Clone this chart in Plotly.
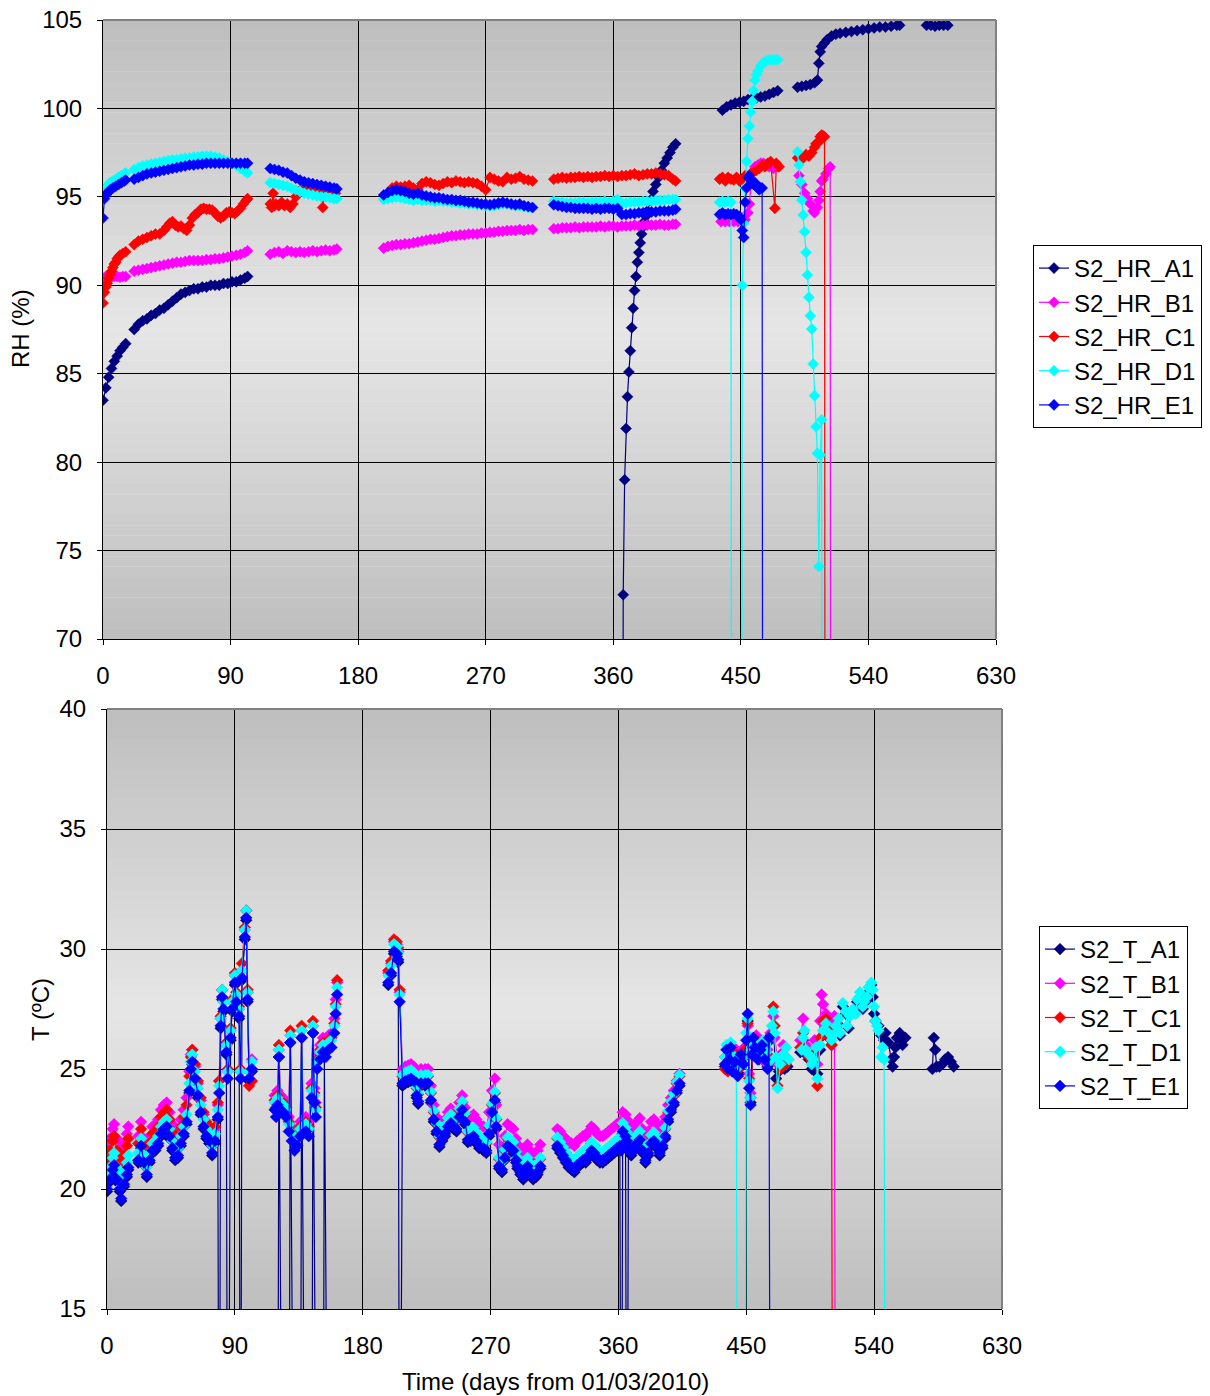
import plotly.graph_objects as go

FONT = "Liberation Sans, Arial, sans-serif"
# page body has an 8px margin; the figure is laid out in screen pixels minus that offset
OFF = 8
W, H = 1210 - OFF, 1396 - OFF
COL = {"A1": "#000080", "B1": "#FF00FF", "C1": "#FF0000", "D1": "#00FFFF", "E1": "#0000FF"}
SERIES = ["A1", "B1", "C1", "D1", "E1"]


def fx(px):
    return (px - OFF) / W


def fy(py):
    return 1 - (py - OFF) / H


# ---------------- RH data (days from 01/03/2010, RH %) ----------------
rh_a1_days = [[0, 2, 4, 6, 8, 10, 12, 14, 16],
              [*range(22, 101, 3), 102],
              [*range(366, 385), *range(386, 405, 2)],
              [*range(437, 477, 3)],
              [490, 493, 496, 499, 502, 504, 505, 506, 507, 509, 511, 514, 517, 520, 524, 528, 532, 536, 540, 544, 548, 552, 556, 560, 562],
              [581, 584, 587, 590, 593, 596]]
rh_a1 = [[83.5, 84.2, 84.8, 85.3, 85.7, 86.0, 86.3, 86.5, 86.7],
         [87.5, 87.8, 88.0, 88.1, 88.3, 88.4, 88.6, 88.7, 88.9, 89.1, 89.3, 89.5, 89.6, 89.7, 89.8, 89.8, 89.9, 89.9, 90.0, 90.0, 90.0, 90.1, 90.1, 90.2, 90.2, 90.3, 90.4, 90.5],
         [0, 72.5, 79.0, 81.9, 83.7, 85.1, 86.3, 87.6, 88.7, 89.7, 90.5, 91.3, 91.85, 92.4, 92.9, 93.3, 93.6, 93.9, 94.2,
          94.8, 95.3, 95.7, 96.1, 96.5, 96.9, 97.2, 97.5, 97.8, 98.0],
         [99.9, 100.1, 100.2, 100.3, 100.35, 100.4, 100.5, 100.55, 100.6, 100.65, 100.7, 100.8, 100.9, 101.0],
         [101.2, 101.25, 101.3, 101.35, 101.45, 101.6, 102.55, 103.2, 103.5, 103.7, 103.9, 104.1, 104.2, 104.25, 104.3, 104.35, 104.4, 104.45, 104.5, 104.55, 104.6, 104.6, 104.65, 104.7, 104.7],
         [104.7, 104.7, 104.65, 104.7, 104.7, 104.7]]

rh_b1_days = [[0, 2, 4, 6, 8, 10, 12, 14, 16],
              [*range(22, 101, 3), 102],
              [*range(118, 164, 3), 165],
              [*range(198, 304, 3)],
              [*range(318, 403, 3), 404],
              [436, 439, 442, 445, 448, 451, 453, 455, 456, 458, 460, 462, 464, 466, 468, 470, 473, 476],
              [491, 493, 495, 497, 499, 501, 502, 504, 505, 506, 507, 508, 510, 512, 513, 514]]
rh_b1 = [[90.4, 90.5, 90.5, 90.45, 90.5, 90.5, 90.45, 90.5, 90.5],
         [90.8, 90.85, 90.9, 90.95, 91.0, 91.05, 91.1, 91.15, 91.2, 91.25, 91.3, 91.3, 91.35, 91.4, 91.4, 91.4, 91.4, 91.45, 91.45, 91.5, 91.5, 91.55, 91.6, 91.65, 91.7, 91.75, 91.85, 91.95],
         [91.75, 91.85, 91.9, 91.8, 91.95, 91.9, 91.85, 91.9, 91.85, 91.9, 91.95, 91.9, 91.95, 92.0, 91.95, 92.0, 92.05],
         [92.1, 92.2, 92.25, 92.3, 92.3, 92.35, 92.35, 92.4, 92.45, 92.5, 92.55, 92.6, 92.6, 92.65, 92.7, 92.75, 92.8, 92.8, 92.85, 92.85, 92.9, 92.9, 92.9, 92.95, 92.95, 93.0, 93.0, 93.05, 93.05, 93.1, 93.1, 93.1, 93.15, 93.1, 93.15, 93.15],
         [93.2, 93.2, 93.25, 93.25, 93.25, 93.3, 93.25, 93.3, 93.3, 93.3, 93.3, 93.35, 93.3, 93.35, 93.35, 93.3, 93.35, 93.35, 93.35, 93.4, 93.35, 93.4, 93.4, 93.4, 93.4, 93.45, 93.4, 93.4, 93.45, 93.45],
         [93.6, 93.6, 93.6, 93.6, 93.6, 93.6, 93.7, 94.1, 94.6, 96.4, 96.7, 96.8, 96.9, 96.9, 96.8, 96.7, 96.6, 96.7],
         [96.2, 95.7, 95.2, 94.9, 94.6, 94.2, 94.1, 94.4, 94.8, 95.3, 95.9, 96.0, 96.3, 96.6, 96.7, 0]]

rh_c1_days = [[0, 1, 2, 3, 4, 5, 6, 7, 8, 9, 10, 11, 12, 14, 16],
              [22, 25, 28, 31, 34, 37, 40, 43, *range(45, 102, 2), 102],
              [118, 119, 120, 121, 122, 124, 126, 128, 130, 132, 134, 136, 138, 140, 143, 146, 149, 152, 154, 155, 156, 158, 160, 162, 164],
              [*range(204, 304, 3)],
              [*range(318, 403, 3), 404],
              [435, 437, 439, 441, 443, 445, 447, 449, 451, 453, 455, 457, 459, 461, 463, 465, 467, 469, 471, 474, 475, 477],
              [490, 492, 494, 496, 498, 500, 502, 503, 505, 506, 507, 508, 509, 510]]
rh_c1 = [[89.0, 89.6, 89.9, 90.1, 90.4, 90.6, 90.8, 91.0, 91.2, 91.3, 91.5, 91.6, 91.7, 91.8, 91.9],
         [92.3, 92.5, 92.6, 92.7, 92.8, 92.9, 92.9, 93.1,
          93.3, 93.5, 93.6, 93.4, 93.3, 93.35, 93.2, 93.1, 93.4, 93.8,
          94.0, 94.1, 94.3, 94.35, 94.3, 94.3, 94.25, 94.1, 93.9, 93.8,
          93.9, 94.1, 94.15, 94.1, 94.05, 94.2, 94.35, 94.6, 94.8, 94.9],
         [94.6, 94.4, 95.2, 94.5, 94.6, 94.5, 94.7, 94.5, 94.6, 94.4, 94.6, 95.0, 95.3, 95.4, 95.5, 95.5, 95.5, 95.4, 95.4, 94.4, 95.4, 95.5, 95.4, 95.3, 95.2],
         [95.5, 95.6, 95.55, 95.6, 95.65, 95.5, 95.4, 95.75, 95.85, 95.8, 95.7, 95.65, 95.75, 95.85, 95.8, 95.9, 95.85, 95.8, 95.85, 95.8, 95.75, 95.6, 95.4, 96.1, 96.0, 95.9, 95.85, 96.1, 96.0, 96.05, 96.15, 96.0, 95.95, 95.9],
         [96.0, 96.05, 96.1, 96.05, 96.1, 96.1, 96.15, 96.1, 96.15, 96.1, 96.15, 96.15, 96.2, 96.15, 96.2, 96.15, 96.2, 96.2, 96.25, 96.3, 96.2, 96.25, 96.3, 96.3, 96.35, 96.3, 96.25, 96.2, 96.0, 95.9],
         [96.0, 96.1, 95.9, 96.1, 96.0, 95.95, 96.1, 95.9, 96.0, 96.2, 96.1, 96.3, 96.4, 96.5, 96.6, 96.8, 96.7, 96.9, 97.0, 94.35, 96.9, 96.7],
         [97.2, 97.3, 97.2, 97.4, 97.3, 97.5, 97.8, 98.0, 98.1, 98.4, 98.5, 98.45, 98.4, 0]]

rh_d1_days = [[0, 1, 2, 3, 4, 5, 7, 9, 11, 13, 15, 16],
              [*range(22, 101, 3), 102],
              [*range(118, 164, 3), 165],
              [*range(198, 304, 3)],
              [*range(318, 403, 3), 404],
              [435, 437, 439, 441, 443, 444, 450, 451, 452, 453, 454, 455, 456, 457, 458, 459, 460, 461, 462, 464, 466, 468, 470, 472, 474, 476],
              [*range(490, 509)]]
rh_d1 = [[95.2, 95.4, 95.5, 95.6, 95.7, 95.8, 95.9, 96.0, 96.1, 96.2, 96.3, 96.35],
         [96.55, 96.65, 96.75, 96.8, 96.85, 96.9, 96.95, 97.0, 97.05, 97.1, 97.1, 97.15, 97.2, 97.2, 97.25, 97.25, 97.3, 97.3, 97.3, 97.25, 97.2, 97.1, 97.0, 96.9, 96.8, 96.6, 96.45, 96.35],
         [95.8, 95.75, 95.7, 95.65, 95.6, 95.5, 95.4, 95.3, 95.2, 95.15, 95.1, 95.05, 95.0, 95.0, 94.95, 94.9, 94.9],
         [94.85, 94.9, 94.95, 95.0, 94.95, 94.9, 94.85, 94.8, 94.85, 94.8, 94.8, 94.8, 94.75, 94.8, 94.75, 94.75, 94.7, 94.7, 94.65, 94.65, 94.6, 94.6, 94.55, 94.55, 94.5, 94.5, 94.5, 94.55, 94.6, 94.6, 94.55, 94.5, 94.5, 94.45, 94.4, 94.4],
         [94.75, 94.7, 94.7, 94.65, 94.65, 94.65, 94.7, 94.7, 94.65, 94.7, 94.7, 94.7, 94.75, 94.7, 94.75, 94.85, 94.65, 94.65, 94.7, 94.7, 94.7, 94.75, 94.75, 94.75, 94.8, 94.8, 94.8, 94.85, 94.85, 94.85],
         [94.7, 94.75, 94.7, 94.75, 94.7, 0, 0, 90.0, 93.5, 95.5, 97.0, 98.3, 99.0, 99.8, 100.4, 101.0, 101.6, 101.9, 102.1, 102.4, 102.6, 102.7, 102.75, 102.75, 102.75, 102.75],
         [97.55, 96.8, 95.86, 94.82, 93.97, 93.03, 91.86, 90.58, 89.32, 88.28, 87.53, 85.55, 83.76, 82.0, 80.5, 74.1, 80.4, 82.4, 0]]

rh_e1_days = [[0, 1, 2, 3, 4, 5, 7, 9, 11, 13, 15, 16],
              [*range(22, 101, 3), 102],
              [*range(118, 164, 3), 165],
              [*range(198, 304, 3)],
              [*range(318, 403, 3), 404],
              [435, 437, 439, 441, 443, 445, 447, 449, 450, 451, 452, 453, 454, 455, 456, 457, 458, 459, 460, 461, 462, 463, 464, 465, 466]]
rh_e1 = [[93.8, 94.9, 95.1, 95.2, 95.3, 95.4, 95.5, 95.6, 95.7, 95.8, 95.9, 95.95],
         [96.0, 96.1, 96.2, 96.3, 96.35, 96.4, 96.45, 96.5, 96.55, 96.6, 96.65, 96.7, 96.75, 96.8, 96.8, 96.85, 96.85, 96.9, 96.9, 96.9, 96.9, 96.9, 96.9, 96.9, 96.9, 96.9, 96.9, 96.9],
         [96.6, 96.55, 96.5, 96.4, 96.35, 96.2, 96.05, 95.95, 95.85, 95.8, 95.75, 95.7, 95.65, 95.6, 95.55, 95.5, 95.45],
         [95.1, 95.25, 95.35, 95.4, 95.35, 95.3, 95.2, 95.15, 95.2, 95.1, 95.05, 95.0, 94.95, 94.95, 94.9, 94.85, 94.85, 94.8, 94.8, 94.75, 94.7, 94.7, 94.65, 94.6, 94.6, 94.55, 94.6, 94.65, 94.7, 94.65, 94.6, 94.55, 94.6, 94.5, 94.45, 94.4],
         [94.55, 94.5, 94.45, 94.4, 94.4, 94.35, 94.35, 94.35, 94.35, 94.3, 94.35, 94.3, 94.35, 94.35, 94.3, 94.35, 94.0, 94.0, 94.05, 94.05, 94.1, 94.1, 94.1, 94.15, 94.15, 94.2, 94.2, 94.2, 94.25, 94.3],
         [94.0, 94.1, 94.0, 94.05, 94.0, 94.05, 94.0, 93.9, 93.7, 93.1, 92.7, 94.7, 95.5, 96.1, 96.2, 96.0, 95.8, 95.7, 95.8, 95.6, 95.5, 95.4, 95.5, 95.5, 0]]

# ---------------- T data (days, deg C) ----------------
t_main_days = [[0, 2, 4, 5, 7, 9, 10, 12, 14, 15],
               [*range(22, 59, 2), 59, 60, *range(62, 79, 2), 79, 80, 81, 82, 84, 85, 87, 88, 90, 91, 93, 94, 95, 97, 98, 99, 100, 102],
               [118, 119, 120, 121, 122, 124, 126, 128, 129, 130, 132, 134, 136, 137, 138, 140, 142, 144, 145, 146, 147, 148, 150, 152, 153, 154, 156, 158, 160, 161, 162],
               [198, 200, 202, 204, 205, 206, 208, 210, 212, 214, 216, 218, 219, 221, *range(224, 263, 2), 265, 267, 269, 271, 273, 274, 276, 278, 280, 282, 284, 286, 288, 289, 291, 293, 295, 296, 298, 300, 302, 303, 305],
               [*range(317, 362, 2), 362, 363, 365, 366, *range(367, 404, 2)]]

t_e1_main = [[20.0, 20.4, 20.8, 21.0, 20.4, 20.0, 19.6, 20.2, 20.6, 20.9],
             [21.2, 21.8, 21.1, 20.6, 21.2, 21.6, 21.7, 21.9, 22.3, 22.5, 22.6, 22.2, 21.7, 21.3, 21.4, 21.9, 22.3, 22.8, 24.1, 25.0, 25.3, 24.6, 23.9, 23.2, 22.6, 22.2, 22.0, 21.5, 22.0, 23.0, 24.0, 26.8, 28.0, 27.5, 25.7, 24.6, 26.3, 27.5, 28.6, 27.8, 27.2, 24.6, 28.8, 30.5, 31.3, 27.9, 24.6, 25.0],
             [23.3, 23.0, 23.5, 25.5, 23.3, 23.2, 23.0, 22.4, 26.1, 22.0, 21.6, 21.8, 22.2, 26.3, 22.3, 22.4, 22.2, 23.8, 26.5, 23.6, 23.0, 25.0, 25.4, 25.7, 25.5, 25.5, 25.8, 25.9, 26.5, 27.3, 28.1],
             [28.6, 29.0, 29.9, 29.8, 29.55, 27.8, 24.4, 24.5, 24.55, 24.6, 24.5, 23.9, 23.65, 24.4, 24.4, 24.4, 23.7, 22.9, 22.4, 21.85, 22.1, 22.3, 22.6, 22.75, 22.6, 22.5, 23.0, 23.3, 22.8, 22.05, 22.1, 22.2, 22.0, 21.8, 21.7, 21.6, 22.3, 23.2, 23.7, 22.6, 20.95, 20.8, 21.3, 21.8, 21.7, 21.6, 21.2, 20.95, 20.7, 20.5, 20.8, 20.95, 20.7, 20.5, 20.6, 20.7, 20.95],
             [21.8, 21.6, 21.4, 21.2, 21.0, 20.9, 20.8, 21.0, 21.1, 21.2, 21.2, 21.4, 21.6, 21.5, 21.3, 21.2, 21.2, 21.3, 21.4, 21.5, 21.6, 21.7, 21.8, 21.6, 22.4, 22.2, 22.0, 21.8, 21.5, 21.7, 21.9, 22.05, 21.6, 21.2, 21.5, 21.9, 22.0, 21.8, 21.5, 21.8, 22.2, 22.9, 23.3, 23.6, 24.1, 24.4]]
t_e1_tail_days = [[435, 436, 437, 438, 439, 440, 442, 444, 446, 448, 450, 451, 452, 453, 454, 455, 456, 458, 460, 461, 463, 465, 466, 467]]
t_e1_tail = [[25.2, 25.8, 25.0, 25.4, 25.9, 24.9, 25.3, 24.7, 25.6, 25.2, 26.2, 27.3, 24.2, 23.5, 25.6, 26.3, 25.9, 25.4, 25.8, 26.0, 25.4, 25.0, 26.3, 0]]

t_b1_main = [[21.7, 22.1, 22.5, 22.7, 22.1, 21.7, 21.3, 21.9, 22.3, 22.6],
             [22.2, 22.8, 22.1, 21.6, 22.2, 22.6, 22.7, 22.9, 23.3, 23.5, 23.6, 23.2, 22.7, 22.3, 22.4, 22.9, 23.3, 23.8, 24.9, 25.6, 25.8, 25.1, 24.4, 23.7, 23.1, 22.7, 22.5, 22.0, 22.5, 23.5, 24.5, 27.1, 28.3, 27.8, 26.0, 24.9, 26.6, 27.8, 28.9, 28.1, 27.5, 24.9, 29.1, 30.8, 31.6, 28.2, 24.9, 25.4],
             [23.9, 23.6, 24.1, 25.8, 23.9, 23.8, 23.6, 23.0, 26.4, 22.6, 22.2, 22.4, 22.8, 26.6, 22.9, 23.0, 22.8, 24.4, 26.8, 24.2, 23.6, 25.6, 26.0, 26.3, 26.1, 26.1, 26.4, 26.5, 27.1, 27.9, 28.6],
             [29.0, 29.4, 30.3, 30.2, 29.9, 28.2, 25.0, 25.1, 25.15, 25.2, 25.1, 24.5, 24.25, 25.0, 25.0, 25.0, 24.3, 23.5, 23.0, 22.45, 22.7, 22.9, 23.2, 23.35, 23.2, 23.1, 23.6, 23.9, 23.4, 22.95, 23.0, 23.1, 22.9, 22.7, 22.6, 22.5, 23.2, 24.1, 24.6, 23.5, 21.85, 21.7, 22.2, 22.7, 22.6, 22.5, 22.1, 21.85, 21.6, 21.4, 21.7, 21.85, 21.6, 21.4, 21.5, 21.6, 21.85],
             [22.5, 22.4, 22.2, 22.1, 21.9, 21.9, 21.8, 22.0, 22.1, 22.2, 22.2, 22.4, 22.6, 22.5, 22.3, 22.2, 22.2, 22.3, 22.4, 22.5, 22.6, 22.7, 22.8, 22.6, 23.2, 23.1, 22.9, 22.7, 22.4, 22.6, 22.8, 22.95, 22.5, 22.1, 22.4, 22.8, 22.9, 22.7, 22.4, 22.7, 23.0, 23.5, 23.8, 24.1, 24.5, 24.8]]
t_b1_tail_days = [[435, 437, 439, 441, 443, 445, 447, 449, 451, 452, 453, 455, 457, 459, 461, 463, 465, 467, 469, 470, 472, 474, 476, 478],
                  [488, 490, 492, 494, 496, 498, 500, 502, 503, 504, 506, 508, 510, 512, 513]]
t_b1_tail = [[25.5, 25.3, 26.0, 25.4, 25.8, 25.3, 25.6, 25.9, 26.8, 24.8, 24.0, 26.2, 26.4, 25.7, 26.1, 25.3, 25.8, 26.5, 27.2, 26.3, 25.2, 25.6, 26.0, 25.5],
             [26.2, 27.1, 26.0, 25.8, 25.6, 26.2, 25.2, 27.0, 28.1, 27.7, 27.3, 27.0, 26.7, 27.2, 0]]

t_c1_main = [[21.2, 21.6, 22.0, 22.2, 21.6, 21.2, 20.8, 21.4, 21.8, 22.1],
             [21.9, 22.5, 21.8, 21.3, 21.9, 22.3, 22.4, 22.6, 23.0, 23.2, 23.3, 22.9, 22.4, 22.0, 22.1, 22.6, 23.0, 23.5, 24.7, 25.5, 25.8, 25.2, 24.5, 23.8, 23.2, 22.8, 22.6, 22.1, 22.6, 23.6, 24.5, 27.2, 28.3, 27.9, 26.1, 25.0, 26.7, 27.9, 29.0, 28.2, 27.6, 25.0, 29.4, 30.9, 31.6, 28.3, 24.3, 24.5],
             [23.7, 23.4, 23.9, 26.0, 23.7, 23.6, 23.4, 22.8, 26.6, 22.4, 22.0, 22.2, 22.6, 26.8, 22.7, 22.8, 22.6, 24.2, 27.0, 24.0, 23.4, 25.4, 25.8, 26.1, 25.9, 25.9, 26.2, 26.3, 26.9, 27.7, 28.7],
             [29.1, 29.5, 30.4, 30.3, 30.05, 28.3, 24.7, 24.8, 24.85, 24.9, 24.8, 24.2, 23.95, 24.7, 24.7, 24.7, 24.0, 23.2, 22.7, 22.15, 22.4, 22.6, 22.9, 23.05, 22.9, 22.8, 23.3, 23.6, 23.1, 22.35, 22.4, 22.5, 22.3, 22.1, 22.0, 21.9, 22.6, 23.5, 24.0, 22.9, 21.25, 21.1, 21.6, 22.1, 22.0, 21.9, 21.5, 21.25, 21.0, 20.8, 21.1, 21.25, 21.0, 20.8, 20.9, 21.0, 21.25],
             [22.1, 21.9, 21.7, 21.5, 21.3, 21.2, 21.1, 21.3, 21.4, 21.5, 21.5, 21.7, 21.9, 21.8, 21.6, 21.5, 21.5, 21.6, 21.7, 21.8, 21.9, 22.0, 22.1, 21.9, 22.7, 22.5, 22.3, 22.1, 21.8, 22.0, 22.2, 22.35, 21.9, 21.5, 21.8, 22.2, 22.3, 22.1, 21.8, 22.1, 22.5, 23.2, 23.6, 23.9, 24.4, 24.7]]
t_c1_tail_days = [[435, 437, 439, 441, 443, 445, 447, 449, 451, 452, 453, 455, 457, 459, 461, 463, 465, 467, 469, 470, 472, 474, 476, 478],
                  [488, 490, 492, 494, 496, 498, 500, 502, 504, 506, 508, 509, 510, 511]]
t_c1_tail = [[25.0, 24.9, 25.7, 25.3, 25.6, 25.0, 25.5, 25.8, 26.9, 24.6, 23.8, 26.1, 26.2, 25.5, 25.9, 25.4, 25.6, 26.4, 27.6, 26.8, 24.3, 25.0, 25.4, 25.2],
             [25.9, 26.5, 25.8, 25.5, 25.3, 25.8, 24.3, 26.3, 27.0, 27.1, 26.6, 26.3, 26.0, 0]]

t_d1_main = [[20.5, 20.9, 21.3, 21.5, 20.9, 20.5, 20.1, 20.7, 21.1, 21.4],
             [21.5, 22.1, 21.4, 20.9, 21.5, 21.9, 22.0, 22.2, 22.6, 22.8, 22.9, 22.5, 22.0, 21.6, 21.7, 22.2, 22.6, 23.1, 24.4, 25.3, 25.6, 24.9, 24.2, 23.5, 22.9, 22.5, 22.3, 21.8, 22.3, 23.3, 24.3, 27.1, 28.3, 27.8, 26.0, 24.9, 26.6, 27.8, 28.9, 28.1, 27.5, 24.9, 29.1, 30.8, 31.6, 28.2, 24.9, 25.3],
             [23.6, 23.3, 23.8, 25.8, 23.6, 23.5, 23.3, 22.7, 26.4, 22.3, 21.9, 22.1, 22.5, 26.6, 22.6, 22.7, 22.5, 24.1, 26.8, 23.9, 23.3, 25.3, 25.7, 26.0, 25.8, 25.8, 26.1, 26.2, 26.8, 27.6, 28.4],
             [28.9, 29.3, 30.2, 30.1, 29.85, 28.1, 24.75, 24.85, 24.9, 24.95, 24.85, 24.25, 24.0, 24.75, 24.75, 24.75, 24.05, 23.25, 22.75, 22.2, 22.45, 22.65, 22.95, 23.1, 22.95, 22.85, 23.35, 23.65, 23.15, 22.4, 22.45, 22.55, 22.35, 22.15, 22.05, 21.95, 22.65, 23.55, 24.05, 22.95, 21.3, 21.15, 21.65, 22.15, 22.05, 21.95, 21.55, 21.3, 21.05, 20.85, 21.15, 21.3, 21.05, 20.85, 20.95, 21.05, 21.3],
             [22.15, 21.95, 21.75, 21.55, 21.35, 21.25, 21.15, 21.35, 21.45, 21.55, 21.55, 21.75, 21.95, 21.85, 21.65, 21.55, 21.55, 21.65, 21.75, 21.85, 21.95, 22.05, 22.15, 21.95, 22.75, 22.55, 22.35, 22.15, 21.85, 22.05, 22.25, 22.4, 21.95, 21.55, 21.85, 22.25, 22.35, 22.15, 21.85, 22.15, 22.55, 23.25, 23.65, 23.95, 24.45, 24.75]]
t_d1_tail_days = [[435, 436, 437, 438, 439, 440, 442, 443, 444, 449, 450, 451, 452, 453, 454, 455, 456, 458, 460, 462, 464, 466, 468, 469, 470, 471, 472, 474, 476, 478, 480],
                  [489, 490, 491, 492, 494, 496, 497, 499, 500, 502, 504, 506, 508, 510, 511, 513, 515, 516, 518, 520, 521, 523, 525, 527, 528, 530, 532, 533, 535, 536, 538, 539, 540, 541, 542, 543, 545, 546, 547, 548]]
t_d1_tail = [[25.5, 26.0, 25.3, 25.6, 26.1, 25.2, 25.5, 25.0, 0, 0, 26.5, 27.1, 24.5, 23.8, 25.8, 26.0, 26.1, 25.6, 26.0, 26.2, 25.7, 25.3, 26.8, 27.4, 26.5, 25.5, 24.2, 25.2, 25.6, 25.9, 25.4],
             [25.8, 26.3, 26.6, 25.8, 25.6, 25.2, 25.4, 25.9, 24.6, 26.0, 26.6, 26.9, 26.5, 26.2, 26.4, 26.8, 27.1, 26.5, 27.75, 27.4, 26.8, 27.2, 27.5, 27.3, 27.9, 28.2, 27.6, 27.8, 28.0, 28.4, 28.6, 28.3, 27.6, 27.0, 26.8, 26.6, 25.5, 25.9, 25.4, 0]]

t_a1_main = [[19.9, 20.3, 20.7, 20.9, 20.3, 19.9, 19.5, 20.1, 20.5, 20.8],
             [21.1, 21.7, 21.0, 20.5, 21.1, 21.5, 21.6, 21.8, 22.2, 22.4, 22.5, 22.1, 21.6, 21.2, 21.3, 21.8, 22.2, 22.7, 24.0, 24.9, 25.2, 24.5, 23.8, 23.1, 22.5, 22.1, 21.9, 21.4, 21.9, 22.9, 0, 26.7, 27.9, 27.4, 25.6, 0, 26.2, 27.4, 28.5, 27.7, 27.1, 0, 28.7, 30.4, 31.2, 27.8, 24.5, 24.9],
             [0, 0, 0, 25.5, 0, 0, 0, 0, 26.1, 0, 0, 0, 0, 26.3, 0, 0, 0, 0, 26.5, 0, 0, 0, 0, 0, 25.5, 0, 0, 0, 0, 0, 0],
             [28.5, 28.9, 29.8, 29.7, 29.45, 0, 24.3, 24.4, 24.45, 24.5, 24.4, 23.8, 23.55, 24.3, 24.3, 24.3, 23.6, 22.8, 22.3, 21.75, 22.0, 22.2, 22.5, 22.65, 22.5, 22.4, 22.9, 23.2, 22.7, 21.95, 22.0, 22.1, 21.9, 21.7, 21.6, 21.5, 22.2, 23.1, 23.6, 22.5, 20.85, 20.7, 21.2, 21.7, 21.6, 21.5, 21.1, 20.85, 20.6, 20.4, 20.7, 20.85, 20.6, 20.4, 20.5, 20.6, 20.85],
             [21.7, 21.5, 21.3, 21.1, 20.9, 20.8, 20.7, 20.9, 21.0, 21.1, 21.1, 21.3, 21.5, 21.4, 21.2, 21.1, 21.1, 21.2, 21.3, 21.4, 21.5, 21.6, 21.7, 0, 22.3, 22.1, 0, 21.7, 21.4, 21.6, 21.8, 21.95, 21.5, 21.1, 21.4, 21.8, 21.9, 21.7, 21.4, 21.7, 22.1, 22.8, 23.2, 23.5, 24.0, 24.3]]
t_a1_tail_days = [[435, 437, 439, 441, 443, 445, 447, 449, 451, 453, 455, 457, 459, 461, 463, 465, 467, 469, 471, 473, 475, 477, 479],
                  [*range(488, 539, 2), 539, 540, 541, 543, 545, 547, 548, 550, 552, 553, 554, 555, 556, 558, 559, 560, 562],
                  [581, 582, 583, 584, 586, 588, 590, 592, 594, 596]]
t_a1_tail = [[25.1, 25.0, 25.8, 25.0, 25.4, 24.8, 25.4, 25.9, 27.0, 23.6, 26.1, 25.8, 25.4, 25.9, 25.3, 25.1, 26.2, 26.8, 24.6, 24.9, 25.3, 25.0, 25.1],
             [25.7, 26.2, 25.6, 25.4, 25.0, 25.6, 24.8, 25.8, 26.4, 26.7, 26.3, 26.0, 26.5, 26.9, 26.4, 27.6, 27.3, 26.7, 27.3, 27.4, 27.8, 28.0, 27.5, 27.8, 28.2, 28.5, 28.0, 27.3, 27.0, 26.8, 26.4, 26.2, 26.5, 26.1, 25.4, 25.1, 25.5, 25.9, 26.3, 26.5, 26.2, 26.0, 26.3],
             [25.0, 26.3, 25.8, 25.1, 25.1, 25.2, 25.4, 25.5, 25.3, 25.1]]

X_TICKS = [0, 90, 180, 270, 360, 450, 540, 630]
RH_TICKS = [70, 75, 80, 85, 90, 95, 100, 105]
T_TICKS = [15, 20, 25, 30, 35, 40]


def join_segments(days_segs, val_segs):
    xs, ys = [], []
    for i, (ds, vs) in enumerate(zip(days_segs, val_segs)):
        if i:
            xs.append(None)
            ys.append(None)
        for d, v in zip(ds, vs):
            xs.append(d)
            ys.append(v)
    return xs, ys


fig = go.Figure()

rh_data = {"A1": (rh_a1_days, rh_a1), "B1": (rh_b1_days, rh_b1), "C1": (rh_c1_days, rh_c1),
           "D1": (rh_d1_days, rh_d1), "E1": (rh_e1_days, rh_e1)}
for s in SERIES:
    xs, ys = join_segments(*rh_data[s])
    fig.add_trace(go.Scatter(x=xs, y=ys, name="S2_HR_" + s, mode="lines+markers",
                             line=dict(color=COL[s], width=1.2),
                             marker=dict(symbol="diamond", size=8.5, color=COL[s], line=dict(color=COL[s], width=0.5)),
                             connectgaps=False, xaxis="x", yaxis="y", legend="legend"))

t_data = {"A1": (t_a1_main, t_a1_tail_days, t_a1_tail), "B1": (t_b1_main, t_b1_tail_days, t_b1_tail),
          "C1": (t_c1_main, t_c1_tail_days, t_c1_tail), "D1": (t_d1_main, t_d1_tail_days, t_d1_tail),
          "E1": (t_e1_main, t_e1_tail_days, t_e1_tail)}
for s in SERIES:
    main, tdays, tvals = t_data[s]
    xs, ys = join_segments(t_main_days + tdays, main + tvals)
    fig.add_trace(go.Scatter(x=xs, y=ys, name="S2_T_" + s, mode="lines+markers",
                             line=dict(color=COL[s], width=1.2),
                             marker=dict(symbol="diamond", size=9, color=COL[s], line=dict(color=COL[s], width=0.5)),
                             connectgaps=False, xaxis="x2", yaxis="y2", legend="legend2"))

# gradient plot-area backgrounds (style only)
shapes = []
N = 60
for xr, yr in (("x domain", "y domain"), ("x2 domain", "y2 domain")):
    for i in range(N):
        t = (i + 0.5) / N
        lv = int(round(190 + 40 * (1 - abs(2 * t - 1))))
        shapes.append(dict(type="rect", xref=xr, yref=yr, x0=0, x1=1,
                           y0=1 - (i + 1) / N, y1=1 - i / N + 0.0005,
                           fillcolor=f"rgb({lv},{lv},{lv})", line=dict(width=0), layer="below"))
    shapes.append(dict(type="line", xref=xr, yref=yr, x0=0, x1=1, y0=1, y1=1,
                       line=dict(color="#808080", width=2), layer="above"))
    shapes.append(dict(type="line", xref=xr, yref=yr, x0=1, x1=1, y0=0, y1=1,
                       line=dict(color="#808080", width=2), layer="above"))

FS = 24
tickfont = dict(family=FONT, size=FS, color="black")
common_x = dict(tickmode="array", tickvals=X_TICKS, ticktext=[str(v) for v in X_TICKS],
                showgrid=True, gridcolor="black", gridwidth=1, zeroline=False,
                showline=True, linecolor="black", linewidth=1, automargin=False,
                ticks="outside", ticklen=5, tickcolor="black", tickfont=tickfont,
                ticklabelstandoff=10, ticklabeloverflow="allow", fixedrange=True)
common_y = dict(showgrid=True, gridcolor="black", gridwidth=1, zeroline=False,
                showline=True, linecolor="black", linewidth=1, automargin=False,
                ticks="outside", ticklen=5, tickcolor="black", tickfont=tickfont,
                ticklabelstandoff=10, ticklabeloverflow="allow", tickmode="array", fixedrange=True)

legend_common = dict(bgcolor="white", bordercolor="black", borderwidth=1,
                     font=dict(family=FONT, size=FS, color="black"),
                     xanchor="left", yanchor="top", tracegroupgap=0, itemclick=False)

fig.update_layout(
    width=W, height=H,
    margin=dict(l=0, r=0, t=0, b=0, autoexpand=False),
    paper_bgcolor="white", plot_bgcolor="rgba(0,0,0,0)",
    font=dict(family=FONT, size=FS, color="black"),
    xaxis=dict(domain=[fx(103), fx(996)], range=[0, 630], anchor="y", **common_x),
    yaxis=dict(domain=[fy(639), fy(20)], range=[70, 105], anchor="x",
               tickvals=RH_TICKS, ticktext=[str(v) for v in RH_TICKS], **common_y),
    xaxis2=dict(domain=[fx(107), fx(1002)], range=[0, 630], anchor="y2", **common_x),
    yaxis2=dict(domain=[fy(1309), fy(709)], range=[15, 40], anchor="x2",
                tickvals=T_TICKS, ticktext=[str(v) for v in T_TICKS], **common_y),
    legend=dict(x=fx(1033), y=fy(245), **legend_common),
    legend2=dict(x=fx(1039), y=fy(926), **legend_common),
    shapes=shapes,
    annotations=[
        dict(text="RH (%)", x=fx(20), y=fy(329), xref="paper", yref="paper", showarrow=False,
             textangle=-90, font=dict(family=FONT, size=FS), xanchor="center", yanchor="middle"),
        dict(text="T (ºC)", x=fx(40), y=fy(1010), xref="paper", yref="paper", showarrow=False,
             textangle=-90, font=dict(family=FONT, size=FS), xanchor="center", yanchor="middle"),
        dict(text="Time (days from 01/03/2010)", x=fx(555), y=fy(1381), xref="paper", yref="paper",
             showarrow=False, font=dict(family=FONT, size=FS), xanchor="center", yanchor="middle"),
    ],
    showlegend=True,
)

fig.write_html("out.html")
